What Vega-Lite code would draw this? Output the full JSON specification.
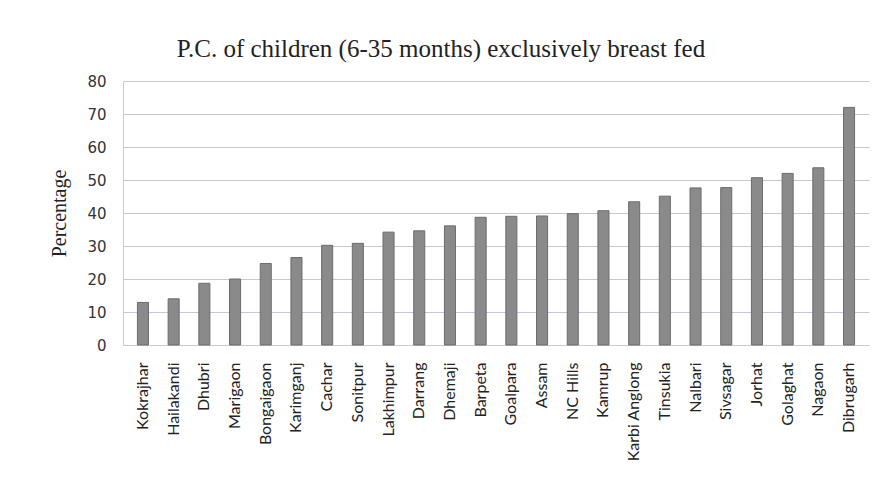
{
  "$schema": "https://vega.github.io/schema/vega-lite/v6.json",
  "width": 746,
  "height": 264,
  "autosize": {"type": "none"},
  "padding": {"left": 123, "top": 81, "right": 16, "bottom": 137},
  "background": "#ffffff",
  "title": {
    "text": "P.C. of children (6-35 months) exclusively breast fed",
    "font": "Liberation Serif",
    "fontSize": 25,
    "fontWeight": "normal",
    "color": "#222222",
    "anchor": "middle",
    "dx": -55,
    "offset": 12
  },
  "data": {
    "values": [
      {"district": "Kokrajhar", "pct": 12.9},
      {"district": "Hailakandi", "pct": 14.0},
      {"district": "Dhubri", "pct": 18.7},
      {"district": "Marigaon", "pct": 20.0},
      {"district": "Bongaigaon", "pct": 24.7},
      {"district": "Karimganj", "pct": 26.5},
      {"district": "Cachar", "pct": 30.2},
      {"district": "Sonitpur", "pct": 30.8},
      {"district": "Lakhimpur", "pct": 34.2},
      {"district": "Darrang", "pct": 34.6},
      {"district": "Dhemaji", "pct": 36.1},
      {"district": "Barpeta", "pct": 38.7},
      {"district": "Goalpara", "pct": 39.0},
      {"district": "Assam", "pct": 39.1},
      {"district": "NC Hills", "pct": 39.8},
      {"district": "Kamrup", "pct": 40.7},
      {"district": "Karbi Anglong", "pct": 43.4},
      {"district": "Tinsukia", "pct": 45.1},
      {"district": "Nalbari", "pct": 47.6},
      {"district": "Sivsagar", "pct": 47.7},
      {"district": "Jorhat", "pct": 50.7},
      {"district": "Golaghat", "pct": 52.0},
      {"district": "Nagaon", "pct": 53.7},
      {"district": "Dibrugarh", "pct": 72.0}
    ]
  },
  "mark": {"type": "bar", "color": "#8a8a8a", "stroke": "#6c6c6c", "strokeWidth": 1},
  "encoding": {
    "x": {
      "field": "district",
      "type": "nominal",
      "sort": null,
      "scale": {"paddingInner": 0.64, "paddingOuter": 0.47},
      "axis": {
        "title": null,
        "labelAngle": -90,
        "labelFont": "Lato",
        "labelFontSize": 16,
        "labelColor": "#222222",
        "labelPadding": 17,
        "ticks": false,
        "domain": true,
        "domainColor": "#c8cad6",
        "labelOverlap": false
      }
    },
    "y": {
      "field": "pct",
      "type": "quantitative",
      "scale": {"domain": [0, 80], "nice": false},
      "axis": {
        "title": "Percentage",
        "titleFont": "Liberation Serif",
        "titleFontSize": 20,
        "titleFontWeight": "normal",
        "titleColor": "#222222",
        "titlePadding": 17,
        "values": [0, 10, 20, 30, 40, 50, 60, 70, 80],
        "labelFont": "DejaVu Sans",
        "labelFontSize": 15,
        "labelColor": "#333333",
        "labelPadding": 17,
        "ticks": false,
        "domainColor": "#c8cad6",
        "grid": true,
        "gridColor": "#c5c8d8",
        "gridWidth": 1.2
      }
    }
  },
  "config": {
    "view": {"stroke": null}
  }
}
